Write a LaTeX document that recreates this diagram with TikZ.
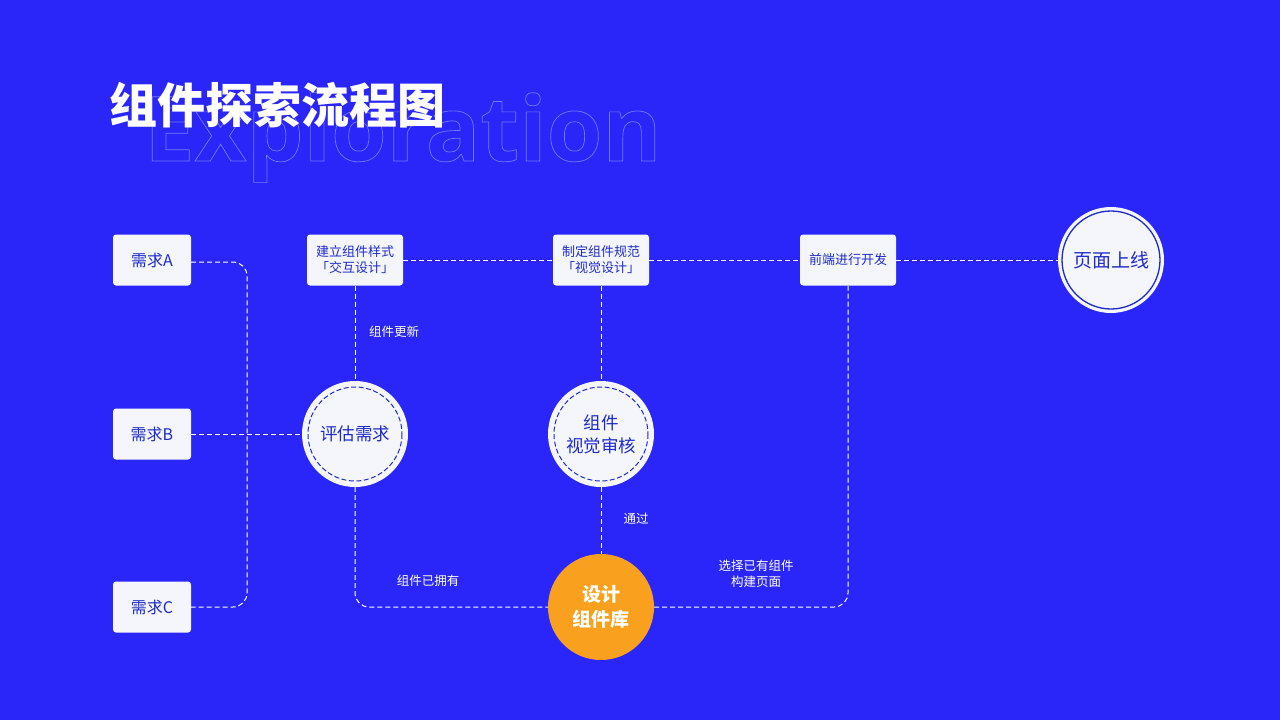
\documentclass[tikz,border=0pt]{standalone}
\usepackage{fontspec}
\setmainfont{Noto Sans CJK SC}
\newfontfamily\latinf{Open Sans}
\begin{document}
\begin{tikzpicture}[x=1pt,y=-1pt,
  reqbox/.style={draw=none,fill=boxc,rounded corners=3pt,minimum width=78pt,minimum height=51pt,text=txtc,font=\fontsize{16}{18}\selectfont,inner sep=0pt},
  stepbox/.style={draw=none,fill=boxc,rounded corners=3pt,minimum width=96pt,minimum height=51pt,text=txtc,font=\fontsize{13}{16}\selectfont,inner sep=0pt,align=center},
  dcirc/.style={circle,fill=boxc,minimum size=106pt,inner sep=0pt,text=txtc,font=\fontsize{17.5}{23}\selectfont,align=center},
  link/.style={draw=white,dashed,dash pattern=on 5pt off 3pt,line width=1pt,rounded corners=14pt},
  lbl/.style={text=white,font=\fontsize{12.5}{15}\selectfont,align=center}]
\definecolor{bgc}{HTML}{2A26FA}
\definecolor{boxc}{HTML}{F4F6FB}
\definecolor{txtc}{HTML}{1E2BC8}
\definecolor{orc}{HTML}{F9A11E}
\fill[bgc] (0,0) rectangle (1280,720);
\node[anchor=base west,inner sep=0pt] (ex) at (144,161) {\special{pdf:code 1 Tr 0.7 w 0.45 0.47 1 RG}\latinf\bfseries\fontsize{90}{100}\selectfont Exploration\special{pdf:code 0 Tr}};
\node[anchor=west,inner sep=0pt,text=white,font=\fontsize{48}{52}\selectfont\bfseries] (title) at (109,105) {组件探索流程图};
\node[reqbox] (ra) at (152,260) {需求A};
\node[reqbox] (rb) at (152,434) {需求B};
\node[reqbox] (rc) at (152,607) {需求C};
\node[stepbox] (s1) at (355,260) {建立组件样式\\「交互设计」};
\node[stepbox] (s2) at (601,260) {制定组件规范\\「视觉设计」};
\node[stepbox] (s3) at (848,260) {前端进行开发};
\node[dcirc] (c1) at (355,434) {评估需求};
\node[dcirc] (c2) at (601,434) {组件\\视觉审核};
\node[dcirc,fill=orc,text=white,font=\fontsize{19}{25}\selectfont\bfseries] (c3) at (601,607) {设计\\组件库};
\node[dcirc] (c4) at (1111,260) {\fontsize{19}{22}\selectfont 页面上线};
\draw[txtc,line width=1pt,dashed,dash pattern=on 5pt off 2.5pt] (c1) circle (47);
\draw[txtc,line width=1pt,dashed,dash pattern=on 5pt off 2.5pt] (c2) circle (47);
\draw[txtc,line width=1.3pt] (c4) circle (49);
\coordinate (ka) at (247,262);
\coordinate (kc) at (247,607);
\draw[link] (ra.east |- ka) -- (ka) -- (kc) -- (rc.east);
\draw[link] (rb) -- (c1);
\draw[link] (s1) -- (s2);
\draw[link] (s2) -- (s3);
\draw[link] (s3) -- (c4);
\draw[link] (s1) -- (c1);
\draw[link] (s2) -- (c2);
\draw[link] (c2) -- (c3);
\draw[link] (c1.south) -- (355,607) -- (c3.west);
\draw[link] (s3.south) -- (848,607) -- (c3.east);
\node[lbl] (l1) at (394,332) {组件更新};
\node[lbl] (l2) at (636,519) {通过};
\node[lbl] (l3) at (428,581) {组件已拥有};
\node[lbl,font=\fontsize{12.5}{16}\selectfont] (l4) at (756,574) {选择已有组件\\构建页面};
\end{tikzpicture}
\end{document}
